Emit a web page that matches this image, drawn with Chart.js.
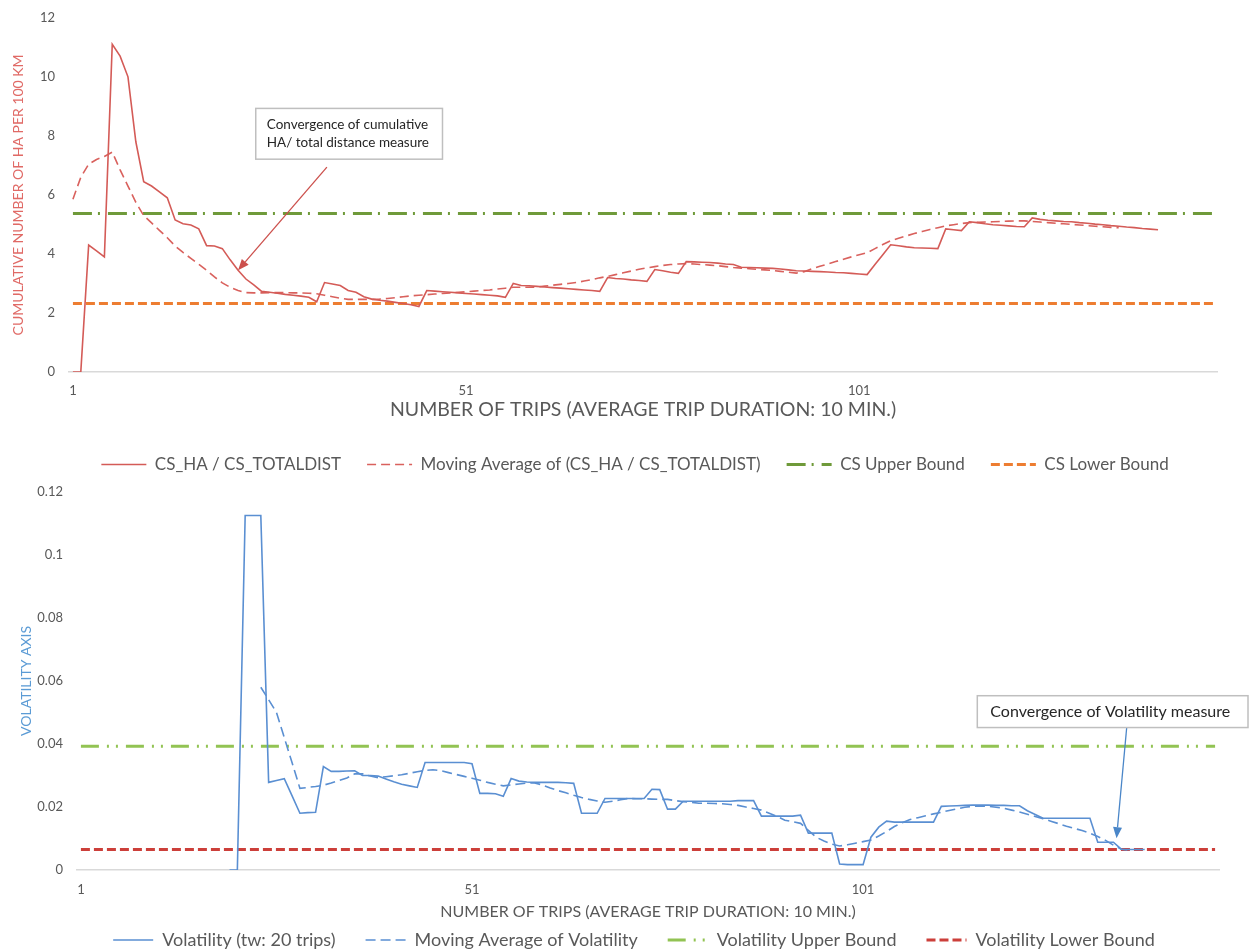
<!DOCTYPE html>
<html>
<head>
<meta charset="utf-8">
<script src="https://cdn.jsdelivr.net/npm/chart.js@4.4.1/dist/chart.umd.min.js"></script>
<style>
  html, body { margin: 0; padding: 0; background: #ffffff; overflow: hidden; }
  #wrapTop { position: absolute; left: 0; top: -4px; width: 1250px; height: 487px; }
  #wrapBottom { position: absolute; left: 0; top: 470px; width: 1250px; height: 490px; }
</style>
</head>
<body>
<div id="wrapTop"><canvas id="topChart" width="1250" height="487"></canvas></div>
<div id="wrapBottom"><canvas id="bottomChart" width="1250" height="490"></canvas></div>
<script>
// ---- trip categories (1 .. 146) and the tick labels that are printed ----
const tripCount = 146;
const trips = Array.from({ length: tripCount }, (_, i) => String(i + 1));
const shownTicks = ['1', '51', '101'];

// ---- cumulative HA per 100 km (trips 1 .. 139) ----
const haRatio = [
  0, 0, 4.3, 4.1, 3.9, 11.1, 10.7, 10.0, 7.8, 6.45,
  6.3, 6.1, 5.9, 5.15, 5.02, 4.98, 4.85, 4.28, 4.27, 4.18,
  3.8, 3.45, 3.15, 2.95, 2.73, 2.70, 2.67, 2.63, 2.60, 2.57,
  2.53, 2.38, 3.03, 2.98, 2.93, 2.76, 2.70, 2.55, 2.47, 2.43,
  2.40, 2.36, 2.32, 2.28, 2.22, 2.76, 2.74, 2.72, 2.70, 2.68,
  2.66, 2.64, 2.62, 2.60, 2.58, 2.53, 3.00, 2.93, 2.92, 2.90,
  2.88, 2.86, 2.84, 2.82, 2.80, 2.78, 2.76, 2.73, 3.20, 3.17,
  3.15, 3.12, 3.10, 3.07, 3.47, 3.43, 3.38, 3.34, 3.74, 3.73,
  3.72, 3.71, 3.69, 3.66, 3.64, 3.55, 3.54, 3.53, 3.52, 3.51,
  3.49, 3.46, 3.43, 3.42, 3.41, 3.40, 3.39, 3.37, 3.36, 3.34,
  3.32, 3.30, 3.64, 3.97, 4.31, 4.28, 4.24, 4.21, 4.20, 4.19,
  4.18, 4.85, 4.82, 4.79, 5.09, 5.06, 5.02, 4.99, 4.97, 4.95,
  4.93, 4.92, 5.22, 5.17, 5.14, 5.12, 5.10, 5.09, 5.06, 5.04,
  5.01, 4.99, 4.96, 4.94, 4.91, 4.89, 4.86, 4.84, 4.82
];

// ---- moving average of the ratio (trips 1 .. 134) ----
const haRatioAvg = [
  5.85, 6.6, 7.04, 7.2, 7.3, 7.45, 6.85, 6.3, 5.75, 5.3,
  5.05, 4.8, 4.55, 4.27, 4.05, 3.85, 3.65, 3.45, 3.22, 3.02,
  2.87, 2.76, 2.69, 2.68, 2.68, 2.69, 2.69, 2.69, 2.68, 2.68,
  2.67, 2.65, 2.60, 2.55, 2.50, 2.46, 2.46, 2.46, 2.46, 2.47,
  2.49, 2.52, 2.55, 2.58, 2.60, 2.62, 2.64, 2.66, 2.68, 2.70,
  2.72, 2.74, 2.76, 2.78, 2.81, 2.84, 2.87, 2.87, 2.87, 2.88,
  2.91, 2.94, 2.97, 3.00, 3.03, 3.08, 3.13, 3.19, 3.24, 3.30,
  3.36, 3.42, 3.48, 3.53, 3.57, 3.61, 3.64, 3.66, 3.67, 3.66,
  3.64, 3.62, 3.60, 3.57, 3.54, 3.52, 3.50, 3.48, 3.46, 3.44,
  3.41, 3.38, 3.35, 3.40, 3.50, 3.58, 3.66, 3.74, 3.82, 3.90,
  3.97, 4.04, 4.18, 4.32, 4.45, 4.53, 4.61, 4.69, 4.76, 4.83,
  4.89, 4.95, 4.99, 5.03, 5.06, 5.07, 5.08, 5.09, 5.10, 5.11,
  5.12, 5.12, 5.10, 5.08, 5.06, 5.04, 5.02, 5.00, 4.98, 4.96,
  4.94, 4.92, 4.90, 4.89
];

const csUpper = 5.37;
const csLower = 2.32;

// ---- volatility over a 20-trip window (trips 1 .. 137) ----
const volatility = [
  null, null, null, null, null, null, null, null, null, null,
  null, null, null, null, null, null, null, null, null, 0,
  0, 0.1125, 0.1125, 0.1125, 0.0278, 0.0284, 0.029, 0.0235, 0.018, 0.0182,
  0.0183, 0.0328, 0.0313, 0.0313, 0.0314, 0.0315, 0.030, 0.030, 0.0298, 0.0289,
  0.028, 0.0272, 0.0267, 0.0262, 0.0341, 0.0341, 0.0341, 0.0341, 0.0341, 0.0341,
  0.0337, 0.0243, 0.0243, 0.0242, 0.0234, 0.029, 0.0282, 0.0279, 0.0278, 0.0278,
  0.0278, 0.0278, 0.0277, 0.0275, 0.018, 0.018, 0.018, 0.0227, 0.0227, 0.0227,
  0.0227, 0.0227, 0.0227, 0.0256, 0.0255, 0.0193, 0.0193, 0.0218, 0.0218, 0.0218,
  0.0218, 0.0218, 0.0218, 0.0218, 0.022, 0.022, 0.022, 0.0171, 0.0171, 0.0171,
  0.0171, 0.0171, 0.0174, 0.0117, 0.0117, 0.0117, 0.0117, 0.0019, 0.0017, 0.0017,
  0.0017, 0.0104, 0.0136, 0.0155, 0.0152, 0.0152, 0.0152, 0.0152, 0.0152, 0.0152,
  0.0202, 0.0203, 0.0204, 0.0205, 0.0206, 0.0206, 0.0206, 0.0205, 0.0205, 0.0204,
  0.0204, 0.0188, 0.0176, 0.0164, 0.0164, 0.0164, 0.0164, 0.0164, 0.0164, 0.0164,
  0.0088, 0.0088, 0.0088, 0.0066, 0.0065, 0.0065, 0.0065
];

// ---- moving average of volatility (trips 1 .. 135) ----
const volatilityAvg = [
  null, null, null, null, null, null, null, null, null, null,
  null, null, null, null, null, null, null, null, null, null,
  null, null, null, 0.058, 0.054, 0.050, 0.042, 0.034, 0.0259, 0.0262,
  0.0265, 0.0269, 0.0276, 0.0284, 0.0292, 0.0305, 0.0305, 0.0298, 0.0293, 0.0296,
  0.0299, 0.0302, 0.0307, 0.0312, 0.0316, 0.0318, 0.0315, 0.0309, 0.0303, 0.0297,
  0.0291, 0.0285, 0.0278, 0.0272, 0.0267, 0.0270, 0.0273, 0.0276, 0.0276, 0.0270,
  0.0260, 0.0252, 0.0245, 0.0237, 0.0230, 0.0224, 0.0219, 0.0215, 0.0218, 0.0223,
  0.0227, 0.0226, 0.0226, 0.0225, 0.0224, 0.0224, 0.0220, 0.0217, 0.0215, 0.0212,
  0.0212, 0.0211, 0.0210, 0.0208, 0.0205, 0.0200, 0.0195, 0.0190, 0.0180, 0.0170,
  0.0158, 0.0153, 0.0148, 0.0126, 0.0104, 0.0092, 0.0082, 0.0076, 0.0080, 0.0085,
  0.0090, 0.0095, 0.0108, 0.0122, 0.0138, 0.0150, 0.0160, 0.0166, 0.0172, 0.0178,
  0.0183, 0.0189, 0.0194, 0.0199, 0.0202, 0.0203, 0.0202, 0.0199, 0.0196, 0.0190,
  0.0184, 0.0177, 0.0170, 0.0163, 0.0155, 0.0147, 0.0139, 0.0132, 0.0125, 0.0117,
  0.0106, 0.0094, 0.0079, 0.0066, 0.0063
];

const volUpper = 0.0393;
const volLower = 0.0065;

// ---- shared styling ----
const FONT = 'Lato, "Open Sans", sans-serif';
const GREY = '#595959';
const xTitle = 'NUMBER OF TRIPS (AVERAGE TRIP DURATION: 10 MIN.)';

// horizontal bound line spanning the first to the last trip
function boundLine(v) {
  return [{ x: trips[0], y: v }, { x: trips[trips.length - 1], y: v }];
}

// text boxes with an arrow pointing at the series
const calloutPlugin = {
  id: 'callouts',
  afterDatasetsDraw(chart, args, opts) {
    const { ctx } = chart;
    const xs = chart.scales.x, ys = chart.scales.y;
    (opts.items || []).forEach(c => {
      const px = v => xs.getPixelForValue(v);
      const py = v => ys.getPixelForValue(v);
      ctx.save();
      // arrow
      const x0 = px(c.from.x), y0 = py(c.from.y);
      const x1 = px(c.to.x), y1 = py(c.to.y);
      ctx.strokeStyle = c.arrowColor;
      ctx.fillStyle = c.arrowColor;
      ctx.lineWidth = 1.3;
      const ang = Math.atan2(y1 - y0, x1 - x0);
      const headLen = 11, headHalf = 4.5;
      const bx = x1 - headLen * Math.cos(ang), by = y1 - headLen * Math.sin(ang);
      ctx.beginPath();
      ctx.moveTo(x0, y0);
      ctx.lineTo(bx, by);
      ctx.stroke();
      ctx.beginPath();
      ctx.moveTo(x1, y1);
      ctx.lineTo(bx + headHalf * Math.sin(ang), by - headHalf * Math.cos(ang));
      ctx.lineTo(bx - headHalf * Math.sin(ang), by + headHalf * Math.cos(ang));
      ctx.closePath();
      ctx.fill();
      // box
      const left = px(c.box.x0);
      const right = c.box.x1 === 'edge' ? chart.width - 2 : px(c.box.x1);
      const top = py(c.box.y0), bottom = py(c.box.y1);
      ctx.fillStyle = '#ffffff';
      ctx.fillRect(left, top, right - left, bottom - top);
      ctx.strokeStyle = '#bfbfbf';
      ctx.lineWidth = 1.5;
      ctx.strokeRect(left, top, right - left, bottom - top);
      // text
      ctx.fillStyle = '#262626';
      ctx.font = c.fontSize + 'px ' + FONT;
      ctx.textAlign = 'left';
      ctx.textBaseline = 'middle';
      const lh = c.lineHeight;
      const startY = (top + bottom) / 2 - (c.lines.length - 1) * lh / 2;
      c.lines.forEach((t, i) => ctx.fillText(t, left + c.padX, startY + i * lh));
      ctx.restore();
    });
  }
};

// moves the legend row sideways by a few pixels
const legendNudge = {
  id: 'legendNudge',
  afterLayout(chart, args, opts) {
    const l = chart.legend;
    if (l && opts.dx) { l.left += opts.dx; l.right += opts.dx; }
  }
};

function xAxis(height, titleSize, titleBottomPad, tickPad) {
  return {
    type: 'category',
    offset: true,
    grid: { display: false, drawTicks: false },
    border: { display: true, color: '#d9d9d9', width: 1.5 },
    ticks: {
      autoSkip: false, maxRotation: 0, minRotation: 0, padding: tickPad,
      color: GREY, font: { family: FONT, size: 13 },
      callback(value) {
        const lab = this.getLabelForValue(value);
        return shownTicks.includes(lab) ? lab : '';
      }
    },
    title: {
      display: true, text: xTitle, color: GREY,
      font: { family: FONT, size: titleSize },
      padding: { top: 0, bottom: titleBottomPad }
    },
    afterFit(s) { s.height = height; }
  };
}

// legend entries carry each dataset's own dash pattern and width
function legendOpts(fontSize, sampleWidth, gap) {
  return {
    position: 'bottom',
    fullSize: false,
    labels: {
      usePointStyle: true,
      pointStyle: 'line',
      pointStyleWidth: sampleWidth,
      padding: gap,
      color: GREY,
      font: { family: FONT, size: fontSize },
      generateLabels(chart) {
        const items = Chart.defaults.plugins.legend.labels.generateLabels(chart);
        items.forEach(it => {
          const ds = chart.data.datasets[it.datasetIndex];
          it.lineDash = ds.borderDash || [];
          it.lineWidth = ds.borderWidth;
          it.strokeStyle = ds.borderColor;
          it.pointStyle = 'line';
        });
        return items;
      }
    }
  };
}

const lineDefaults = { pointRadius: 0, pointHoverRadius: 0, fill: false, tension: 0 };

// ---------------- top chart ----------------
new Chart(document.getElementById('topChart'), {
  type: 'line',
  data: {
    labels: trips,
    datasets: [
      Object.assign({ label: 'CS_HA / CS_TOTALDIST', data: haRatio,
        borderColor: '#d45b57', borderWidth: 1.6 }, lineDefaults),
      Object.assign({ label: 'Moving Average of (CS_HA / CS_TOTALDIST)', data: haRatioAvg,
        borderColor: '#d9615d', borderWidth: 1.6, borderDash: [9, 5] }, lineDefaults),
      Object.assign({ label: 'CS Upper Bound', data: boundLine(csUpper),
        borderColor: '#6f9a3a', borderWidth: 3, borderDash: [19, 6, 2, 8] }, lineDefaults),
      Object.assign({ label: 'CS Lower Bound', data: boundLine(csLower),
        borderColor: '#ed7d31', borderWidth: 3, borderDash: [9, 4] }, lineDefaults)
    ]
  },
  options: {
    responsive: false,
    animation: false,
    events: [],
    layout: { padding: { top: 16, right: 33, bottom: 0, left: 0 } },
    scales: {
      x: xAxis(58, 19.5, 8.3, 11),
      y: {
        min: 0, max: 12,
        grid: { display: false, drawTicks: false },
        border: { display: false },
        ticks: { stepSize: 2, padding: 14, color: GREY, font: { family: FONT, size: 13 } },
        title: {
          display: true, text: 'CUMULATIVE NUMBER OF HA PER 100 KM', color: '#e06a66',
          font: { family: FONT, size: 14 }, padding: { top: 10, bottom: 0 }
        },
        afterFit(s) { s.width = 69; }
      }
    },
    plugins: {
      legend: legendOpts(17, 45, 26),
      legendNudge: { dx: -8 },
      tooltip: { enabled: false },
      callouts: {
        items: [{
          box: { x0: 23.25, x1: 47.0, y0: 8.93, y1: 7.21 },
          lines: ['Convergence of cumulative', 'HA/ total distance measure'],
          fontSize: 13.5, lineHeight: 18, padX: 11,
          from: { x: 32.3, y: 6.94 },
          to: { x: 21, y: haRatio[21] },
          arrowColor: '#cc504c'
        }]
      }
    }
  },
  plugins: [calloutPlugin, legendNudge]
});

// ---------------- bottom chart ----------------
new Chart(document.getElementById('bottomChart'), {
  type: 'line',
  data: {
    labels: trips,
    datasets: [
      Object.assign({ label: 'Volatility (tw: 20 trips)', data: volatility,
        borderColor: '#5a8fd2', borderWidth: 1.6 }, lineDefaults),
      Object.assign({ label: 'Moving Average of Volatility', data: volatilityAvg,
        borderColor: '#5a8fd2', borderWidth: 1.6, borderDash: [10, 5] }, lineDefaults),
      Object.assign({ label: 'Volatility Upper Bound', data: boundLine(volUpper),
        borderColor: '#92c353', borderWidth: 3, borderDash: [18, 8, 2, 7, 2, 8] }, lineDefaults),
      Object.assign({ label: 'Volatility Lower Bound', data: boundLine(volLower),
        borderColor: '#cc3f3a', borderWidth: 3, borderDash: [9, 4] }, lineDefaults)
    ]
  },
  options: {
    responsive: false,
    animation: false,
    events: [],
    layout: { padding: { top: 8, right: 31, bottom: 1, left: 0 } },
    scales: {
      x: xAxis(31, 16, -20.6, 12),
      y: {
        min: 0, max: 0.12,
        grid: { display: false, drawTicks: false },
        border: { display: false },
        ticks: {
          stepSize: 0.02, padding: 14, color: GREY, font: { family: FONT, size: 13 },
          callback(v) { return String(parseFloat(Number(v).toFixed(3))); }
        },
        title: {
          display: true, text: 'VOLATILITY AXIS', color: '#5b9bd5',
          font: { family: FONT, size: 14 }, padding: { top: 18, bottom: 0 }
        },
        afterFit(s) { s.width = 77; }
      }
    },
    plugins: {
      legend: legendOpts(18, 40, 30),
      legendNudge: { dx: -14 },
      tooltip: { enabled: false },
      callouts: {
        items: [{
          box: { x0: 114.6, x1: 'edge', y0: 0.0553, y1: 0.0452 },
          lines: ['Convergence of Volatility measure'],
          fontSize: 16, lineHeight: 18, padX: 13,
          from: { x: 133.7, y: 0.0452 },
          to: { x: 132.4, y: 0.0101 },
          arrowColor: '#4a86c8'
        }]
      }
    }
  },
  plugins: [calloutPlugin, legendNudge]
});
</script>
</body>
</html>
